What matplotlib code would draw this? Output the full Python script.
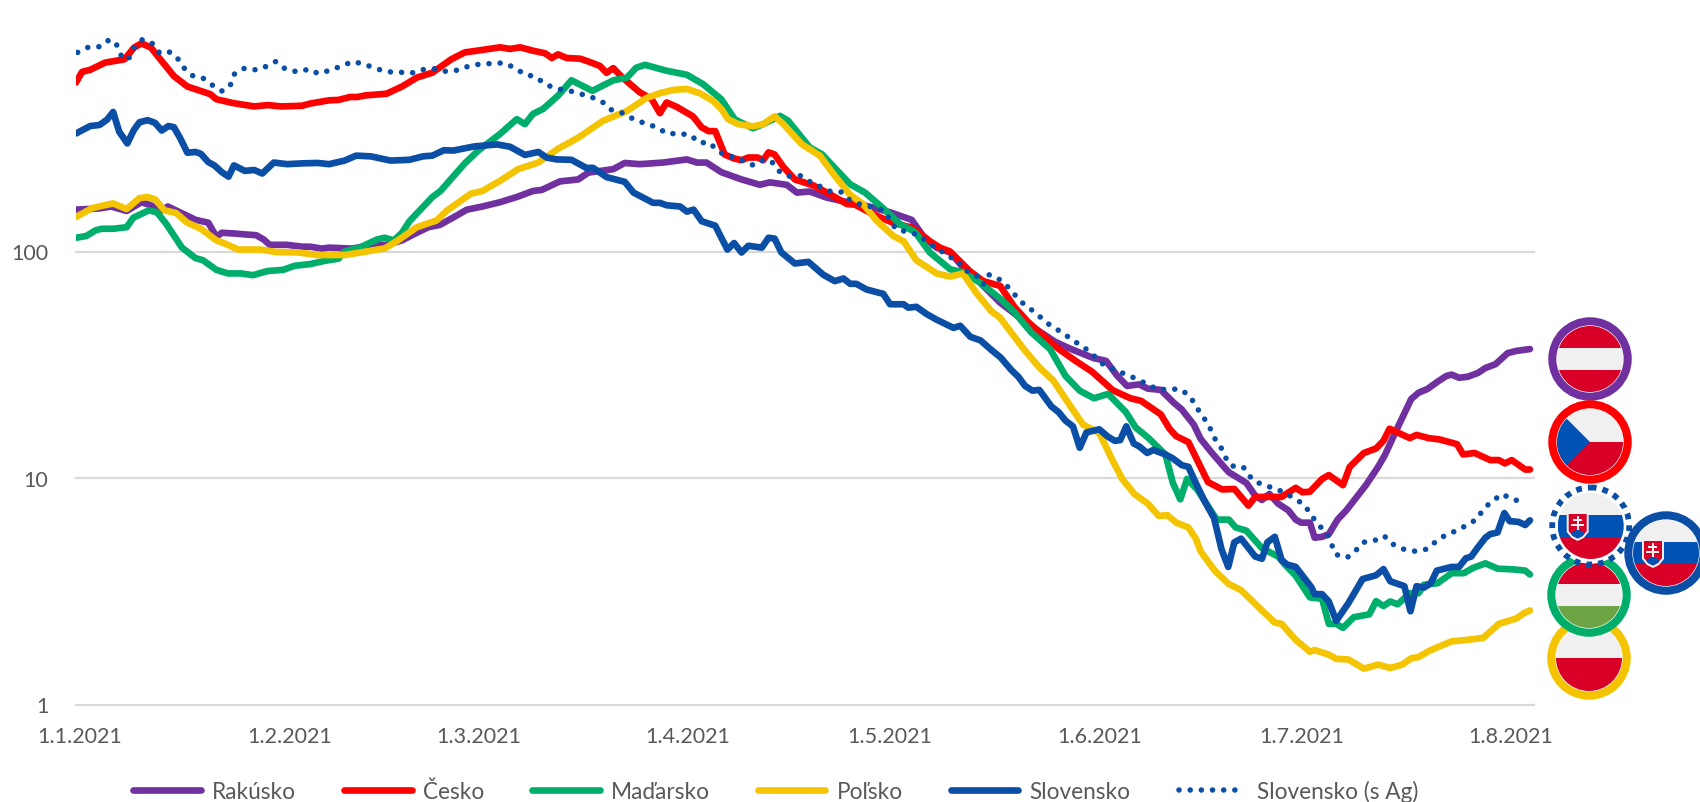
import matplotlib
matplotlib.use('Agg')
import matplotlib.pyplot as plt
from matplotlib.patches import Circle, Rectangle, Polygon

plt.rcParams['font.family'] = ['Lato', 'DejaVu Sans']

# x = days since 1.1.2021, y = cases (log scale)
at_days = [0,3.5,5.2,7.5,9.7,11.1,12.5,13.6,16,17.7,19.6,20.8,21.6,23.6,25,26.7,27.8,28.7,31.3,33.5,34.7,36.4,37.5,40.9,43.2,46,48.3,50.5,52.2,53.9,56.2,57.9,60.2,62.8,65.3,67.7,69,71.7,74.4,75.9,79.6,81.3,83.5,87,90.5,92,93.4,95.6,98.4,101.3,102.8,105.3,106.8,108.7,111.2,114.7,117.1,120.6,123.8,125.5,127.5,129.5,131.9,133.9,136.9,141,145,147.4,150.8,152.6,154.2,155.7,157.5,158.8,160.7,162.7,163.8,165.6,166.6,168.2,170.3,170.8,173.4,174.7,175.7,176.8,178.1,179.6,180.7,181.5,182.8,183.5,184.6,185.6,186.9,188.2,191.1,192.9,193.9,195.5,196.8,197.8,198.9,200.2,201.7,203,203.8,204.9,206.2,207.7,208.8,210.3,212.1,213.4,215.4]
at_vals = [153,155,158,151,165,160,151,158,146,138,134,116,121,120,119,118,113,107,107,105,105,103,104,103,106,107,112,121,128,131,143,153,158,165,174,185,187,204,208,223,231,246,243,247,255,247,247,224,209,197,202,197,182,184,173,164,159,149,138,117,104,99,82,73,59.5,48,40,37.1,33.8,32.9,28.4,25.5,25.9,24.8,24.5,21.4,20.1,17.2,14.9,13,11,10.6,9.5,8.35,8,8.5,7.7,7.2,6.55,6.35,6.35,5.45,5.5,5.65,6.55,7.2,9.3,11.2,12.6,16,19.3,22.3,23.8,24.7,26.6,28.2,28.6,27.7,28,29.1,30.6,31.8,35.6,36.4,37.1]

cz_days = [0,0.9,2.1,4.3,7.2,8.6,9.7,11.1,12.5,14.5,16.5,19.9,20.8,23.3,26.4,28.4,30.4,33.5,34.7,37.5,38.9,40.6,41.7,42.9,46,48.3,50.5,52.8,55.6,57.6,60.2,62.8,64.3,65.8,67.7,69.5,70.5,71.4,72.7,74.7,75.9,77.6,78.6,79.6,80.8,83.5,85.3,86.5,87.5,89,91.4,92.7,93.7,94.7,96.1,97.4,98.6,99.6,101,101.8,102.6,103.5,104.8,106.5,109.2,111.7,114.2,115.4,118.1,121,124,126.5,128,129.5,132.4,134.4,136.9,139,141,143.5,145.6,148.2,150.5,153.6,156.2,157.8,160.7,162,163,164.8,167.7,169.8,171.6,173.7,174.7,178.6,180.7,181.7,182.8,184.6,185.6,187.7,188.7,190.8,192.6,193.7,194.6,197.6,198.6,200.4,202,204.6,205.5,207.2,209.5,210.8,211.7,212.7,214.7,215.4]
cz_vals = [557,621,634,682,706,795,830,795,705,595,535,495,470,452,437,443,437,440,450,465,467,481,481,489,497,535,586,616,706,757,776,797,784,797,770,750,715,742,715,710,690,660,615,645,592,505,470,408,455,435,395,353,340,340,268,258,253,260,260,253,274,268,236,208,196,179,162,161,146,134,127,111,104,100,82,74,70.5,57,49,42,37.1,32.7,29.5,24.4,22.5,21.9,19.1,16.5,15.3,14.4,9.6,8.9,8.95,7.55,8.25,8.25,9.05,8.65,8.7,9.9,10.3,9.3,11.2,12.9,13.5,14.6,16.5,15,15.5,15,14.8,14.1,12.7,12.9,12,12,11.6,12,10.9,10.9]

hu_days = [0,1.5,2.9,3.8,5.5,7.5,8.5,10.8,12,13.4,15.7,17.7,18.8,20.8,22.5,24.5,26.2,28.4,30.7,32.4,34.7,36.9,38.9,39.8,42,44.6,45.7,47.1,48.3,49.4,52.8,54,57.6,59.6,62.8,65.3,66.5,67.7,69.2,71.4,73.4,76.5,79.6,81.6,83,84.3,87.5,90.5,92.9,95.6,97.6,100.3,101.8,104.3,105.5,108.7,110.5,114.7,116.9,119.6,122.1,124.3,126.5,129.5,131.4,133.9,136.9,139,141.5,144.3,146.6,148.7,150.8,152.9,155.5,157,158.8,161.4,162.5,163.6,164.6,166.1,169,170.8,171.8,173.4,175.7,178.1,179.1,180.7,182.8,184.6,185.6,186.7,187.7,189.3,191.6,192.6,193.7,194.7,195.8,197.6,198.9,199.7,201.7,203.8,205.6,206.9,208.8,210.6,212.9,214.7,215.4]
hu_vals = [115,117,124,126,126,128,141,152,149,132,104,93.5,91.5,83,80,80,78.6,82,83,86.5,88,91,93,100,104,113,115,112,121,136,174,185,245,279,330,384,365,405,426,487,570,512,570,585,648,667,628,603,548,470,383,350,365,397,378,288,269,198,182,155,132,122,99,83.5,81,73,62,54,44,37.1,28.2,24.3,22.5,23.5,19.6,16.7,15.1,12.7,9.5,8.05,9.9,8.9,6.55,6.55,6.05,5.85,4.9,4.5,4.15,3.7,2.97,2.93,2.27,2.27,2.18,2.43,2.5,2.86,2.72,2.85,2.77,3.1,3.1,3.38,3.43,3.8,3.8,4,4.2,3.98,3.95,3.9,3.75]

pl_days = [0,2.3,3.8,5.5,7.5,9.4,10.6,11.7,13.1,14.8,16.5,18.5,20.8,22.2,24,27.3,29.6,33,35.8,39.8,42.6,44.6,45.7,47.7,50.5,53.4,55,58.5,60.2,62.8,65.5,68.5,71.4,74.4,78.1,81.6,84.5,86.5,88.5,90.5,92.4,94.4,95.6,96.6,98.1,100.3,101.8,103.5,104.8,107.5,110.2,112.2,114.7,116.6,118.6,121.1,122.6,124.5,127.5,129.5,131.4,133.4,135.6,136.9,140.4,142.7,144.8,147.4,149.2,151.6,153.6,155,156.8,158.8,160.4,161.7,163,164.8,165.9,166.6,168.7,170.8,172.6,175.7,177.6,178.6,180.7,182.8,183.5,185.6,186.7,188.5,190.8,192.9,194.7,196.5,197.8,198.9,200.4,201.7,203.8,206.2,208.5,210.8,213.4,214.5,215.4]
pl_vals = [142,155,159,163,154,172,174,170,152,148,134,126,112,108,102,102,99.5,99,96.5,96.5,99.5,102,103,112,128,137,152,180,185,205,231,247,284,318,378,417,476,500,517,522,500,462,426,384,365,357,365,395,365,298,265,220,178,162,137,117,111,91.5,80,77.5,80,65.5,54.5,51,37.1,30.8,26.9,20.6,17.2,15.8,11.9,9.9,8.5,7.7,6.8,6.85,6.35,6.05,5.4,4.75,3.9,3.4,3.2,2.6,2.3,2.27,1.93,1.71,1.74,1.66,1.59,1.58,1.44,1.5,1.45,1.5,1.6,1.62,1.72,1.79,1.9,1.93,1.97,2.27,2.4,2.53,2.6]

sk_days = [0,2.1,3.5,4.6,5.5,6.4,7.6,8.6,9.4,10.6,11.7,12.7,13.7,14.5,15.4,16.5,17.7,18.5,19.6,20.5,21.6,22.6,23.4,25,26.4,27.6,29.3,31.3,33.5,35.8,37.5,39.8,41.5,43.7,46.6,49.4,51.4,52.8,54.5,55.9,59,62.4,64.3,66.5,68.5,69.7,71.2,73.4,75.6,76.6,78.6,81.3,82.6,85.5,86.5,87.5,89.5,90.5,91.5,92.7,94.7,96.5,97.5,98.6,99.6,101.6,102.6,103.5,104.5,106.5,108.5,110.7,112.4,113.7,114.7,115.6,117.1,119.6,120.6,122.6,123.3,124.5,126,127.5,130,131,132.5,134,135.5,137,138.6,139.6,140.6,141.7,142.7,144.5,145.6,146.6,147.7,148.7,149.7,151.6,152.9,153.9,154.7,155.6,156.7,157.5,158.7,159.6,161.4,162.5,163.8,164.8,165.9,167.2,168.6,169.7,170.7,171.6,172.6,174.7,175.7,176.5,177.6,178.6,179.4,180.7,183,183.5,184.6,185.6,186.7,188.5,190.6,192.6,193.7,194.7,196.8,197.7,198.6,199.7,200.7,201.6,203.8,204.9,205.9,206.7,207.6,208.8,209.5,210.6,211.6,212.4,213.7,214.7,215.4]
sk_vals = [332,358,362,382,413,338,300,345,372,380,370,342,358,354,318,273,275,270,248,240,224,214,240,227,229,221,247,243,245,246,243,252,265,263,252,254,263,265,280,279,291,297,290,267,275,260,255,254,234,234,213,203,182,164,164,160,158,150,153,136,130,102,109,99,106,104,115,114,99,88.5,90,79,74,76,72,72,68,65,58.5,58.5,56.5,57,53,50,46,47,42,40.5,37,34,29.9,28,25.5,24.3,24.5,20.7,19.5,17.9,16.9,13.6,15.9,16.4,15.2,14.6,14.7,16.9,14.2,13.8,12.9,13.3,12.7,12.2,11.4,11.2,9.5,7.9,6.65,4.85,4.05,5.2,5.4,4.5,4.4,5.2,5.5,4.35,4.15,4.05,3.3,3.07,3.07,2.85,2.34,2.8,3.58,3.72,3.96,3.5,3.33,2.58,3.33,3.28,3.43,3.9,4.05,4.05,4.42,4.5,4.9,5.45,5.65,5.75,7,6.45,6.4,6.2,6.5]

ag_days = [0.25,1.8,3.6,5,6,6.7,7.7,8.5,9.8,11.1,12.3,13.5,14.9,15.9,17.3,18.8,20.3,21.7,22.9,23.5,25,26.8,28.1,29.6,31,32.8,34.5,35.9,37.7,39.4,41,42.8,44.5,46.2,47.8,49.6,51.3,53.1,54.8,56.6,58.1,59.8,61.6,63.3,64.9,66.4,68.1,69.6,71.3,73,74.7,76.4,78,79.4,81.2,82.7,84.4,86.1,87.6,89.4,91.1,92.3,93.8,95,96.3,97.8,99,100.4,101.8,103,104.1,105.5,107.2,108.5,110.2,111.8,113.4,114.7,116.3,118.1,119.7,120.6,121.5,123.3,125,126.3,127.8,129,130.6,131.5,133.3,134.4,135.2,136.4,138,140,142,144,146,148,150,152.4,154,155.7,157.4,159,160.5,162.1,163.8,165.1,166,167,167.9,168.6,169.6,170.3,171.2,172.9,174.3,175.9,177.6,179.1,180.6,182,183,184.1,185.3,186,186.6,188.3,189.5,190.7,192.4,193.8,195.1,196.7,198.4,200.1,201.5,202.9,204.5,206.1,207.6,208.5,209.8,211.3,212.4,214.1]
ag_vals = [757,797,803,864,820,733,700,787,860,843,757,771,724,650,597,583,540,510,546,610,645,633,655,690,640,621,638,610,632,660,690,670,641,621,620,612,635,641,624,632,657,672,676,680,650,607,590,546,522,513,497,480,457,420,407,382,367,353,331,332,326,302,303,280,264,261,250,240,253,251,227,215,217,205,194,184,183,168,161,157,152,138,125,122,118,108,103,95.5,92,83,79,71.5,79,77,70,60,54,48,44,40,36.5,31.3,30,28.5,27.2,25.6,24.5,24.8,24.5,22.8,20.5,18.6,16.9,15.1,13.7,12.3,11.3,11.2,9.8,9.3,9,8.6,8.1,7.6,6.85,6.2,5.7,5.1,4.6,4.45,4.75,5.2,5.3,5.55,5.1,4.85,4.75,4.85,5.25,5.6,5.85,6.2,6.6,7.3,7.9,8.5,8.15,7.85]

tick_days = [0, 31, 59, 90, 120, 151, 181, 212]
tick_labels = ['1.1.2021', '1.2.2021', '1.3.2021', '1.4.2021', '1.5.2021', '1.6.2021', '1.7.2021', '1.8.2021']
y_ticks = [1, 10, 100]

PURPLE = '#7030A0'
RED = '#FF0000'
GREEN = '#00AE6B'
YELLOW = '#F5C400'
BLUE = '#0B4EA6'
TEXT = '#595959'
LW = 4.8

fig = plt.figure(figsize=(17, 8.03), dpi=100)
ax = fig.add_axes([76/1700, 1-705.5/803, (1534-76)/1700, (705.5-26)/803])
ax.set_yscale('log')
ax.set_xlim(0, 216)
ax.set_ylim(1, 1000)
ax.set_yticks(y_ticks)
ax.set_yticklabels(['1', '10', '100'])
ax.minorticks_off()
ax.set_xticks([d + 0.6 for d in tick_days])
ax.set_xticklabels(tick_labels)
ax.tick_params(axis='x', length=0, pad=15.5, labelsize=15.5, labelcolor=TEXT)
ax.tick_params(axis='y', length=0, pad=20, labelsize=15.5, labelcolor=TEXT)
for s in ax.spines.values():
    s.set_visible(False)
ax.grid(False)
for y in y_ticks:
    ax.axhline(y, color='#D9D9D9', lw=1.6, zorder=1, clip_on=False)

ax.plot(at_days, at_vals, color=PURPLE, lw=LW, label='Rakúsko', solid_capstyle='round', zorder=2)
ax.plot(cz_days, cz_vals, color=RED, lw=LW, label='Česko', solid_capstyle='round', zorder=3)
ax.plot(hu_days, hu_vals, color=GREEN, lw=LW, label='Maďarsko', solid_capstyle='round', zorder=4)
ax.plot(pl_days, pl_vals, color=YELLOW, lw=LW, label='Poľsko', solid_capstyle='round', zorder=5)
ax.plot(sk_days, sk_vals, color=BLUE, lw=LW, label='Slovensko', solid_capstyle='round', zorder=6)
ax.plot(ag_days, ag_vals, color=BLUE, lw=4.0, ls=(0, (0.01, 2.0)), dash_capstyle='round',
        label='Slovensko (s Ag)', zorder=7)

leg = fig.legend(loc='center', bbox_to_anchor=(776/1700, 1-792/803), ncol=6, frameon=False,
                 fontsize=16.3, labelcolor=TEXT, handlelength=2.98, handletextpad=0.5,
                 columnspacing=2.12)

# flags are drawn in a pixel overlay
ov = fig.add_axes([0, 0, 1, 1], zorder=10)
ov.set_xlim(0, 1700)
ov.set_ylim(803, 0)
ov.axis('off')
ov.patch.set_alpha(0)

F_RED = '#D80027'
F_WHITE = '#F0F0F0'
F_BLUE = '#0052B4'
F_GREEN = '#6DA544'
R = 33


def add_clipped(p, clip, z):
    p.set_zorder(z)
    ov.add_patch(p)
    p.set_clip_path(clip)


def stripes(cx, cy, cols, z):
    clip = Circle((cx, cy), R, fc='none', ec='none')
    ov.add_patch(clip)
    if len(cols) == 3:
        edges = [-R, -11, 11, R]
    else:
        edges = [-R, 0, R]
    for i, c in enumerate(cols):
        add_clipped(Rectangle((cx-R, cy+edges[i]), 2*R, edges[i+1]-edges[i], fc=c, ec='none'), clip, z)
    return clip


def ring(cx, cy, col, z, dotted=False):
    ov.add_patch(Circle((cx, cy), 37.7, fc='white', ec='none', zorder=z-1))
    if dotted:
        ov.add_patch(Circle((cx, cy), 38.5, fc='none', ec=col, lw=4.2, ls=(0, (1, 1.05)), zorder=z+1))
    else:
        ov.add_patch(Circle((cx, cy), 37.7, fc='none', ec=col, lw=5.8, zorder=z+1))


def sk_flag(cx, cy, col, z, dotted=False):
    ring(cx, cy, col, z, dotted)
    stripes(cx, cy, [F_WHITE, F_BLUE, F_RED], z)
    shield = [(-24, -14), (-2, -14), (-2, 6), (-7, 12), (-13, 15), (-19, 12), (-24, 6)]
    inner = [(-22, -12), (-4, -12), (-4, 5), (-8, 10), (-13, 12.5), (-18, 10), (-22, 5)]
    ov.add_patch(Polygon([(cx+a, cy+b) for a, b in shield], fc=F_WHITE, ec='none', zorder=z+0.1))
    ov.add_patch(Polygon([(cx+a, cy+b) for a, b in inner], fc=F_RED, ec='none', zorder=z+0.2))
    hill = [(-18, 10), (-20, 7), (-16, 5), (-13, 3), (-10, 5), (-6, 7), (-8, 10), (-13, 12.5)]
    ov.add_patch(Polygon([(cx+a, cy+b) for a, b in hill], fc=F_BLUE, ec='none', zorder=z+0.3))
    ov.add_patch(Rectangle((cx-14, cy-10), 2, 14, fc=F_WHITE, ec='none', zorder=z+0.4))
    ov.add_patch(Rectangle((cx-17.5, cy-7), 9, 2.2, fc=F_WHITE, ec='none', zorder=z+0.4))
    ov.add_patch(Rectangle((cx-19.5, cy-2), 13, 2.2, fc=F_WHITE, ec='none', zorder=z+0.4))


# Poland, Hungary, Austria, Czech, Slovakia x2
ring(1589, 659, YELLOW, 2)
stripes(1589, 659, [F_WHITE, F_RED], 2)

ring(1589, 596, GREEN, 6)
stripes(1589, 596, [F_RED, F_WHITE, F_GREEN], 6)

ring(1590, 360, PURPLE, 2)
stripes(1590, 360, [F_RED, F_WHITE, F_RED], 2)

ring(1590, 443, RED, 2)
c = stripes(1590, 443, [F_WHITE, F_RED], 2)
add_clipped(Polygon([(1590-50, 443-50), (1590, 443), (1590-50, 443+50)], fc=F_BLUE, ec='none'), c, 2.1)

sk_flag(1666, 554, BLUE, 10)
sk_flag(1590.7, 527, BLUE, 14, dotted=True)

fig.savefig('out.png', dpi=100)
